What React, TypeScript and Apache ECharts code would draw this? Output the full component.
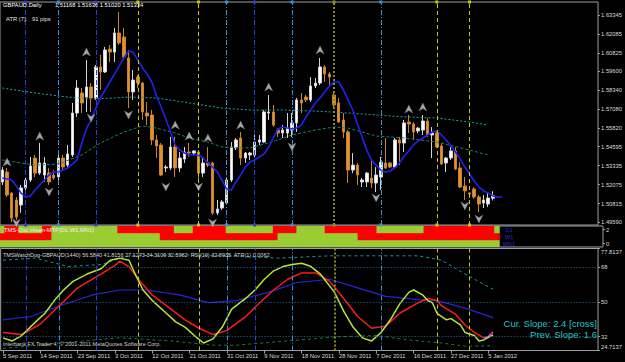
import React, { useEffect, useRef } from "react";
import * as echarts from "echarts";

// ---------- data ----------
const N_SLOTS = 128; // chart has an empty shift zone on the right
const LABEL_EVERY = 8;
const dateLabels = ["5 Sep 2011", "14 Sep 2011", "23 Sep 2011", "3 Oct 2011", "12 Oct 2011", "21 Oct 2011", "31 Oct 2011", "9 Nov 2011", "18 Nov 2011", "28 Nov 2011", "7 Dec 2011", "16 Dec 2011", "27 Dec 2011", "5 Jan 2012"];

const opens = [1.5225, 1.5291, 1.5151, 1.5105, 1.5072, 1.5185, 1.5238, 1.5384, 1.5284, 1.5271, 1.5284, 1.5271, 1.5258, 1.5384, 1.5337, 1.5404, 1.5683, 1.5816, 1.5789, 1.5856, 1.5783, 1.5989, 1.5956, 1.6108, 1.6088, 1.6215, 1.6188, 1.6049, 1.5823, 1.5922, 1.5882, 1.5683, 1.567, 1.5504, 1.547, 1.5318, 1.5318, 1.5457, 1.5318, 1.5377, 1.5424, 1.5417, 1.5424, 1.5284, 1.5351, 1.5351, 1.5019, 1.5052, 1.5085, 1.5238, 1.5451, 1.5517, 1.5384, 1.5404, 1.5404, 1.549, 1.549, 1.5683, 1.569, 1.557, 1.555, 1.555, 1.557, 1.5617, 1.577, 1.5789, 1.577, 1.5863, 1.5882, 1.5989, 1.5942, 1.5803, 1.575, 1.5637, 1.5557, 1.5304, 1.5337, 1.5225, 1.5225, 1.5251, 1.5218, 1.5258, 1.5351, 1.5351, 1.5324, 1.5504, 1.5484, 1.5623, 1.561, 1.5564, 1.557, 1.563, 1.5537, 1.555, 1.5464, 1.5351, 1.5384, 1.5431, 1.5318, 1.5198, 1.5151, 1.5178, 1.5125, 1.5085, 1.5078, 1.51168];
const highs = [1.5324, 1.5318, 1.5158, 1.5125, 1.5205, 1.5251, 1.5391, 1.5404, 1.5484, 1.5391, 1.5318, 1.5304, 1.5404, 1.5404, 1.547, 1.575, 1.5902, 1.5849, 1.6035, 1.5882, 1.6002, 1.6069, 1.6122, 1.6135, 1.6248, 1.6354, 1.6248, 1.6102, 1.5969, 1.5936, 1.5889, 1.5756, 1.5703, 1.5537, 1.5484, 1.5337, 1.5524, 1.5524, 1.5424, 1.5457, 1.5484, 1.5437, 1.5437, 1.5391, 1.5457, 1.5357, 1.5105, 1.5105, 1.5251, 1.549, 1.5517, 1.5557, 1.5424, 1.5424, 1.5557, 1.5537, 1.5703, 1.5803, 1.5736, 1.5583, 1.5603, 1.5683, 1.5683, 1.5783, 1.5816, 1.5803, 1.5922, 1.5916, 1.6049, 1.6002, 1.5956, 1.5816, 1.5783, 1.5683, 1.557, 1.5417, 1.5351, 1.5251, 1.5291, 1.5371, 1.5324, 1.5391, 1.5517, 1.5357, 1.5517, 1.5524, 1.5637, 1.567, 1.5623, 1.559, 1.567, 1.565, 1.559, 1.557, 1.5484, 1.5391, 1.5457, 1.5457, 1.5357, 1.5258, 1.5158, 1.5191, 1.5138, 1.5138, 1.5158, 1.51636];
const lows = [1.5205, 1.5125, 1.4959, 1.4972, 1.5019, 1.5171, 1.5225, 1.5258, 1.5271, 1.5225, 1.5205, 1.5238, 1.5238, 1.5304, 1.5324, 1.5391, 1.5657, 1.5683, 1.569, 1.569, 1.577, 1.5836, 1.5949, 1.6022, 1.6022, 1.6135, 1.6035, 1.5716, 1.577, 1.5849, 1.5637, 1.5603, 1.547, 1.5384, 1.5264, 1.5291, 1.5304, 1.5258, 1.5291, 1.5351, 1.5391, 1.5404, 1.5218, 1.5258, 1.5324, 1.5005, 1.5005, 1.5039, 1.5072, 1.5225, 1.5437, 1.5337, 1.5351, 1.5371, 1.5391, 1.547, 1.5484, 1.5637, 1.559, 1.5524, 1.5517, 1.5517, 1.5524, 1.5557, 1.5683, 1.5756, 1.5756, 1.5849, 1.5869, 1.5889, 1.5856, 1.5716, 1.5617, 1.5517, 1.5218, 1.5284, 1.5205, 1.5191, 1.5191, 1.5185, 1.5158, 1.5171, 1.5311, 1.5318, 1.5318, 1.5337, 1.5424, 1.555, 1.5504, 1.555, 1.5537, 1.5524, 1.5384, 1.5451, 1.5337, 1.5291, 1.5371, 1.5304, 1.5185, 1.5105, 1.5118, 1.5112, 1.5025, 1.5052, 1.5058, 1.5102];
const closes = [1.5304, 1.5138, 1.4985, 1.4992, 1.5185, 1.5238, 1.5331, 1.5284, 1.5351, 1.5351, 1.5225, 1.5251, 1.5384, 1.5324, 1.5411, 1.5683, 1.5849, 1.575, 1.5856, 1.5783, 1.5989, 1.5956, 1.6102, 1.6088, 1.6215, 1.6148, 1.6055, 1.5823, 1.5902, 1.5882, 1.569, 1.5663, 1.5504, 1.5464, 1.5271, 1.5324, 1.5457, 1.5318, 1.5384, 1.5424, 1.5417, 1.5431, 1.5284, 1.5351, 1.5337, 1.5019, 1.5045, 1.5092, 1.5238, 1.5457, 1.5504, 1.5384, 1.5417, 1.5417, 1.549, 1.5504, 1.569, 1.569, 1.5603, 1.555, 1.557, 1.5583, 1.5617, 1.577, 1.575, 1.577, 1.5863, 1.5882, 1.5989, 1.5942, 1.5922, 1.5736, 1.5623, 1.5557, 1.5304, 1.5337, 1.5271, 1.5238, 1.5284, 1.5218, 1.5271, 1.5357, 1.5318, 1.5324, 1.5504, 1.5484, 1.5617, 1.561, 1.5557, 1.5583, 1.563, 1.5537, 1.555, 1.5457, 1.5344, 1.5384, 1.5431, 1.5311, 1.5191, 1.5165, 1.5145, 1.5125, 1.5078, 1.5105, 1.5118, 1.51334];

const maBlue = [1.5251, 1.5245, 1.5238, 1.5198, 1.5151, 1.5125, 1.5132, 1.5171, 1.5205, 1.5238, 1.5271, 1.5291, 1.5291, 1.5304, 1.5318, 1.5344, 1.5371, 1.5484, 1.5577, 1.5637, 1.5716, 1.5783, 1.5836, 1.5889, 1.5942, 1.5995, 1.6049, 1.6095, 1.6088, 1.6035, 1.5982, 1.5942, 1.5889, 1.5796, 1.5723, 1.5643, 1.5557, 1.547, 1.5437, 1.5417, 1.5404, 1.5404, 1.5404, 1.5384, 1.5351, 1.5324, 1.5291, 1.5238, 1.5178, 1.5171, 1.5225, 1.5271, 1.5324, 1.5357, 1.5371, 1.5391, 1.5411, 1.5457, 1.5517, 1.5577, 1.559, 1.5583, 1.5577, 1.5583, 1.5603, 1.5657, 1.5703, 1.575, 1.5783, 1.5823, 1.5863, 1.5889, 1.5889, 1.5836, 1.577, 1.5703, 1.561, 1.5524, 1.5437, 1.5371, 1.5337, 1.5304, 1.5291, 1.5298, 1.5318, 1.5351, 1.5397, 1.5431, 1.547, 1.5497, 1.5517, 1.5537, 1.5557, 1.5564, 1.5537, 1.5504, 1.5464, 1.5424, 1.5377, 1.5324, 1.5278, 1.5231, 1.5191, 1.5165, 1.5151, 1.5132, 1.5125, 1.5125];

// slow envelope lines on the price chart: [bar index, price]
const envUpper = [[0, 1.5849], [7, 1.5816], [14, 1.5789], [20, 1.5776], [27, 1.5789], [33, 1.5783], [40, 1.575], [47, 1.5716], [53, 1.5703], [60, 1.5703], [67, 1.5696], [74, 1.5683], [80, 1.567], [86, 1.5657], [93, 1.565], [100, 1.5623], [104, 1.5603]];
const envLower = [[0, 1.5371], [7, 1.5337], [12, 1.5344], [17, 1.5404], [21, 1.5484], [26, 1.5557], [30, 1.5597], [33, 1.5583], [37, 1.555], [40, 1.5517], [44, 1.549], [47, 1.5457], [53, 1.5451], [57, 1.5484], [62, 1.5537], [67, 1.557], [71, 1.559], [74, 1.5583], [80, 1.553], [86, 1.5517], [93, 1.549], [100, 1.5437], [104, 1.5404]];

const fractalUp = [[1, 1.5357], [8, 1.553], [18, 1.6088], [37, 1.5603], [40, 1.553], [44, 1.5517], [51, 1.5603], [57, 1.5856], [68, 1.6102], [87, 1.571], [90, 1.5723]];
const fractalDown = [[3, 1.4952], [10, 1.5158], [19, 1.565], [27, 1.567], [35, 1.5191], [42, 1.5191], [45, 1.4952], [62, 1.5457], [80, 1.5118], [99, 1.5065], [102, 1.4978]];

const priceTicks = [1.63345, 1.62085, 1.60825, 1.596, 1.5834, 1.5708, 1.5582, 1.54595, 1.53335, 1.52075, 1.50815, 1.4959];
const lastPrice = 1.51334;

const vLines = [5, 12, 20, 29, 42, 48, 54, 62, 71, 81, 93, 100];
const vLineColors = ["#2a3fd8", "#3d8fd9", "#2a3fd8", "#c8c814", "#c8c814", "#3d8fd9", "#2a3fd8", "#3d8fd9", "#8a8a2a", "#3d8fd9", "#c8c814", "#c8c814"];

// multi-timeframe state: red ranges (inclusive bar indices), else green
const d1Red = [[1, 3], [9, 10], [25, 36], [41, 47], [58, 62], [69, 79], [90, 104]];
const w1Red = [[0, 10], [34, 58], [76, 105]];
const mn1Red: number[][] = [];

// oscillator panel: [bar index, value]
const oscFast = [[0, 31.3], [2, 29.7], [4, 32.5], [7, 39.6], [9, 44.1], [11, 50.7], [13, 56.2], [15, 60.7], [18, 64.5], [21, 67.3], [23, 71.7], [25, 72.8], [27, 71.7], [28, 66.2], [30, 56.2], [32, 50.7], [35, 44.1], [37, 39.6], [39, 36.9], [41, 32.5], [43, 28.6], [45, 30.8], [47, 36.9], [49, 46.3], [52, 51.8], [54, 56.2], [56, 61.8], [58, 66.2], [60, 68.4], [62, 69.5], [64, 70.1], [66, 68.4], [68, 64.5], [71, 55.1], [73, 45.2], [75, 36.9], [77, 31.3], [79, 29.7], [81, 34.1], [83, 40.7], [85, 49.0], [87, 55.1], [88, 56.2], [90, 53.5], [91, 50.7], [92, 49.6], [93, 44.1], [95, 40.7], [96, 41.3], [98, 38.0], [99, 34.1], [101, 32.5], [102, 29.7], [103, 30.2], [105, 32.89]];
const oscMid = [[0, 34.1], [4, 33.0], [8, 38.5], [12, 47.9], [16, 57.3], [21, 64.5], [24, 69.0], [25, 71.2], [27, 68.4], [29, 61.8], [32, 53.5], [36, 46.3], [39, 40.7], [42, 36.3], [45, 33.0], [48, 35.2], [52, 42.4], [55, 49.6], [58, 56.2], [61, 61.8], [64, 65.1], [67, 65.1], [70, 60.7], [73, 51.8], [76, 42.4], [79, 36.3], [82, 37.4], [85, 44.1], [89, 49.6], [91, 51.8], [93, 50.7], [94, 47.9], [97, 43.5], [99, 38.0], [101, 34.1], [103, 31.3]];
const oscMagenta = [[103, 31.3], [104, 32.0], [105, 34.31]];
const oscSlow = [[0, 40.7], [6, 42.4], [12, 47.9], [19, 53.5], [25, 56.2], [31, 56.2], [38, 53.5], [44, 49.6], [50, 50.7], [57, 55.1], [63, 60.1], [70, 61.8], [76, 57.3], [82, 52.9], [89, 51.2], [93, 50.7], [99, 46.8], [105, 41.82]];
const oscUpper = [[0, 71.7], [7, 72.8], [14, 68.4], [21, 69.5], [27, 74.0], [38, 74.5], [49, 74.0], [59, 72.8], [70, 74.0], [80, 74.0], [89, 74.0], [94, 71.7], [99, 64.5], [105, 56.58]];
const oscLower = [[0, 25.8], [12, 28.6], [25, 31.3], [36, 29.7], [45, 27.5], [50, 27.5], [61, 29.7], [72, 31.9], [80, 32.5], [87, 30.2], [94, 28.6], [99, 27.0], [105, 27.13]];
const oscLevels = [68, 50, 32];
const oscMin = 24.7137;
const oscMax = 77.8137;
const oscTicks = [77.8137, 68, 50, 32, 24.7137];

// ---------- styling ----------
const FONT = "'Liberation Sans', Arial, sans-serif";
const TXT = "#dcdcdc";
const FRAME = "#a0a0a0";
const RED = "#ff0000";
const GREEN = "#9acd32";

function buildOption() {
  const cats = Array.from({ length: N_SLOTS }, (_, i) => String(i));
  const candleData = opens.map((o, i) => [o, closes[i], lows[i], highs[i]]);
  const inRanges = (r: number[][], i: number) => r.some(([a, b]) => i >= a && i <= b);
  // rows: 0 = MN1 (bottom), 1 = W1, 2 = D1 (top)
  const rows = [mn1Red, w1Red, d1Red];
  const tfData: number[][] = [];
  opens.forEach((_, i) => rows.forEach((r, k) => tfData.push([i, k, inRanges(r, i) ? 1 : 0])));

  const axisTxt = { color: TXT, fontSize: 5.8, fontFamily: FONT };
  const hiddenX = (g: number) => ({
    type: "category", gridIndex: g, data: cats, boundaryGap: true,
    axisLine: { show: false }, axisTick: { show: false }, axisLabel: { show: false }, splitLine: { show: false },
  });
  const vLineData = () =>
    vLines.map((x, k) => ({
      xAxis: x,
      lineStyle: {
        color: vLineColors[k],
        width: vLineColors[k] === "#8a8a2a" ? 2 : 1,
        type: vLineColors[k] === "#8a8a2a" ? [2, 2] : vLineColors[k] === "#c8c814" ? [4, 3] : [5, 2, 1, 2],
      },
    }));

  const txt = (x: number, y: number, text: string, fill: string, size = 5.8, align = "left") => ({
    type: "text", x, y, silent: true, z: 100,
    style: { text, fill, fontSize: size, fontFamily: FONT, align, verticalAlign: "middle" },
  });

  return {
    animation: false,
    backgroundColor: "#000000",
    grid: [
      { left: 0, right: 22, top: 2, height: 223, show: true, borderColor: FRAME, borderWidth: 1 },
      { left: 0, right: 22, top: 226, height: 21, show: true, borderColor: FRAME, borderWidth: 1 },
      { left: 0, right: 22, top: 248.5, height: 102, show: true, borderColor: FRAME, borderWidth: 1 },
    ],
    xAxis: [
      hiddenX(0),
      hiddenX(1),
      {
        type: "category", gridIndex: 2, data: cats, boundaryGap: true,
        axisLine: { show: false }, splitLine: { show: false },
        axisTick: {
          show: true, alignWithLabel: true, length: 3, lineStyle: { color: FRAME },
          interval: (i: number) => i % LABEL_EVERY === 0 && i / LABEL_EVERY < dateLabels.length,
        },
        axisLabel: {
          show: true, align: "left", margin: 2, ...axisTxt,
          interval: (i: number) => i % LABEL_EVERY === 0 && i / LABEL_EVERY < dateLabels.length,
          formatter: (_v: string, i: number) => dateLabels[i / LABEL_EVERY] ?? "",
        },
      },
    ],
    yAxis: [
      {
        type: "value", gridIndex: 0, position: "right", min: 1.49389, max: 1.64207,
        axisLine: { show: false }, splitLine: { show: false },
        axisTick: { show: true, length: 2, customValues: priceTicks, lineStyle: { color: FRAME } },
        axisLabel: { customValues: priceTicks, formatter: (v: number) => v.toFixed(5), margin: 3, ...axisTxt },
      },
      { type: "value", gridIndex: 1, min: 0, max: 3, show: false },
      {
        type: "value", gridIndex: 1, position: "right", min: -0.5, max: 2.5,
        axisLine: { show: false }, splitLine: { show: false },
        axisTick: { show: true, length: 2, customValues: [0, 2], lineStyle: { color: FRAME } },
        axisLabel: { customValues: [0, 2], margin: 3, ...axisTxt },
      },
      {
        type: "value", gridIndex: 2, position: "right", min: oscMin, max: oscMax,
        axisLine: { show: false }, splitLine: { show: false },
        axisTick: { show: true, length: 2, customValues: oscTicks, lineStyle: { color: FRAME } },
        axisLabel: {
          customValues: oscTicks, margin: 3, ...axisTxt,
          formatter: (v: number) =>
            Math.abs(v - oscMax) < 1e-6 ? `{top|${v.toFixed(4)}}` :
            Math.abs(v - oscMin) < 1e-6 ? `{bot|${v.toFixed(4)}}` : String(Math.round(v)),
          rich: {
            top: { padding: [7, 0, 0, 0], ...axisTxt },
            bot: { padding: [0, 0, 7, 0], ...axisTxt },
          },
        },
      },
    ],
    series: [
      {
        type: "candlestick", xAxisIndex: 0, yAxisIndex: 0, data: candleData, barWidth: 3,
        itemStyle: { color: "#ffffff", color0: "#e0902c", borderColor: "#d4d4d4", borderColor0: "#c8842c", borderWidth: 1 },
        markLine: {
          silent: true, symbol: ["rect", "rect"], symbolSize: 3, label: { show: false },
          data: vLineData(),
        },
      },
      {
        type: "line", xAxisIndex: 0, yAxisIndex: 0, data: envUpper, symbol: "none",
        lineStyle: { color: "#24a3a3", width: 1, type: [2, 2] },
      },
      {
        type: "line", xAxisIndex: 0, yAxisIndex: 0, data: envLower, symbol: "none",
        lineStyle: { color: "#1b7f6e", width: 1, type: [3, 2] },
      },
      {
        type: "line", xAxisIndex: 0, yAxisIndex: 0, data: maBlue, symbol: "none",
        lineStyle: { color: "#2222ee", width: 1.6 },
        markLine: {
          silent: true, symbol: "none",
          data: [{ yAxis: lastPrice }],
          lineStyle: { opacity: 0 },
          label: {
            show: true, position: "end", distance: 1, formatter: lastPrice.toFixed(5),
            color: "#000", backgroundColor: "#ffffff", padding: [1, 2, 0, 2], fontSize: 5.8, fontFamily: FONT,
          },
        },
      },
      {
        type: "scatter", xAxisIndex: 0, yAxisIndex: 0, data: fractalUp, clip: false,
        symbol: "path://M5 0 L10 10 L5 7 L0 10 Z", symbolSize: [8, 8],
        itemStyle: { color: "#d0d0d0", borderColor: "#7a7a7a", borderWidth: 0.5 }, z: 5,
      },
      {
        type: "scatter", xAxisIndex: 0, yAxisIndex: 0, data: fractalDown, clip: false,
        symbol: "path://M0 0 L5 3 L10 0 L5 10 Z", symbolSize: [8, 8],
        itemStyle: { color: "#d0d0d0", borderColor: "#7a7a7a", borderWidth: 0.5 }, z: 5,
      },
      // multi-timeframe state cells
      {
        type: "custom", xAxisIndex: 1, yAxisIndex: 1, data: tfData, clip: true,
        renderItem: (_p: any, api: any) => {
          const i = api.value(0);
          const k = api.value(1);
          const c0 = api.coord([i, k]);
          const c1 = api.coord([i, k + 1]);
          const w = api.size([1, 0])[0];
          return {
            type: "rect",
            shape: { x: c0[0] - w / 2 - 0.4, y: c1[1] - 0.2, width: w + 0.8, height: c0[1] - c1[1] + 0.4 },
            style: { fill: api.value(2) ? RED : GREEN },
          };
        },
      },
      // oscillator panel
      {
        type: "line", xAxisIndex: 2, yAxisIndex: 3, data: oscUpper, symbol: "none",
        lineStyle: { color: "#2a9090", width: 1, type: [3, 3] },
        markLine: {
          silent: true, symbol: "none", label: { show: false },
          data: [
            ...oscLevels.map((v) => ({ yAxis: v, lineStyle: { color: "#2d6f95", width: 1, type: [1, 2] } })),
            ...vLineData(),
          ],
        },
      },
      {
        type: "line", xAxisIndex: 2, yAxisIndex: 3, data: oscLower, symbol: "none",
        lineStyle: { color: "#197a45", width: 1, type: [3, 3] },
      },
      {
        type: "line", xAxisIndex: 2, yAxisIndex: 3, data: oscSlow, symbol: "none",
        lineStyle: { color: "#2626d8", width: 1.2 },
      },
      {
        type: "line", xAxisIndex: 2, yAxisIndex: 3, data: oscMid, symbol: "none",
        lineStyle: { color: "#ff1a1a", width: 1.5 },
      },
      {
        type: "line", xAxisIndex: 2, yAxisIndex: 3, data: oscMagenta, symbol: "none",
        lineStyle: { color: "#ff33ff", width: 1.5 },
      },
      {
        type: "line", xAxisIndex: 2, yAxisIndex: 3, data: oscFast, symbol: "none",
        lineStyle: { color: "#b4e63c", width: 1.5 },
      },
    ],
    graphic: [
      txt(3, 5, "GBPAUD.Daily", "#ffffff"),
      txt(55, 5, "1.51168 1.51636 1.51020 1.51334", "#ffffff"),
      txt(6, 19, "ATR (7):", "#e0e0e0"),
      txt(32, 19, "91 pips", "#e0e0e0"),
      txt(4, 230, "TMS-Osc Hisen-MTF(D1,W1,MN1)", "#f0f0f0"),
      txt(509, 229.5, "D1", "#2a2ad0", 5.8, "center"),
      txt(509, 236.5, "W1", "#2a2ad0", 5.8, "center"),
      txt(509, 243.5, "MN1", "#2a2ad0", 5.8, "center"),
      txt(3, 255, "TMSWatchDog-GBPAUD(1440) 56.5840 41.8156 27.1273 34.3109 32.5962  RSI(10) 32.8935  ATR(1) 0.0062", "#d8d8d8", 5.5),
      txt(3, 344, "Interbank FX Trader 4, \u00a9 2001-2011 MetaQuotes Software Corp.", "#d0d0d0", 5.5),
      txt(597, 323, "Cur. Slope: 2.4 [cross]", "#22c4cc", 9.5, "right"),
      txt(597, 334, "Prev. Slope: 1.6", "#22c4cc", 9.5, "right"),
    ],
  };
}

export default function App() {
  const ref = useRef<HTMLDivElement>(null);
  useEffect(() => {
    document.body.style.margin = "0";
    document.body.style.background = "#000";
    const chart = echarts.init(ref.current!, null, { renderer: "svg" });
    chart.setOption(buildOption() as any);
    return () => chart.dispose();
  }, []);
  return <div ref={ref} style={{ width: 625, height: 362 }} />;
}
